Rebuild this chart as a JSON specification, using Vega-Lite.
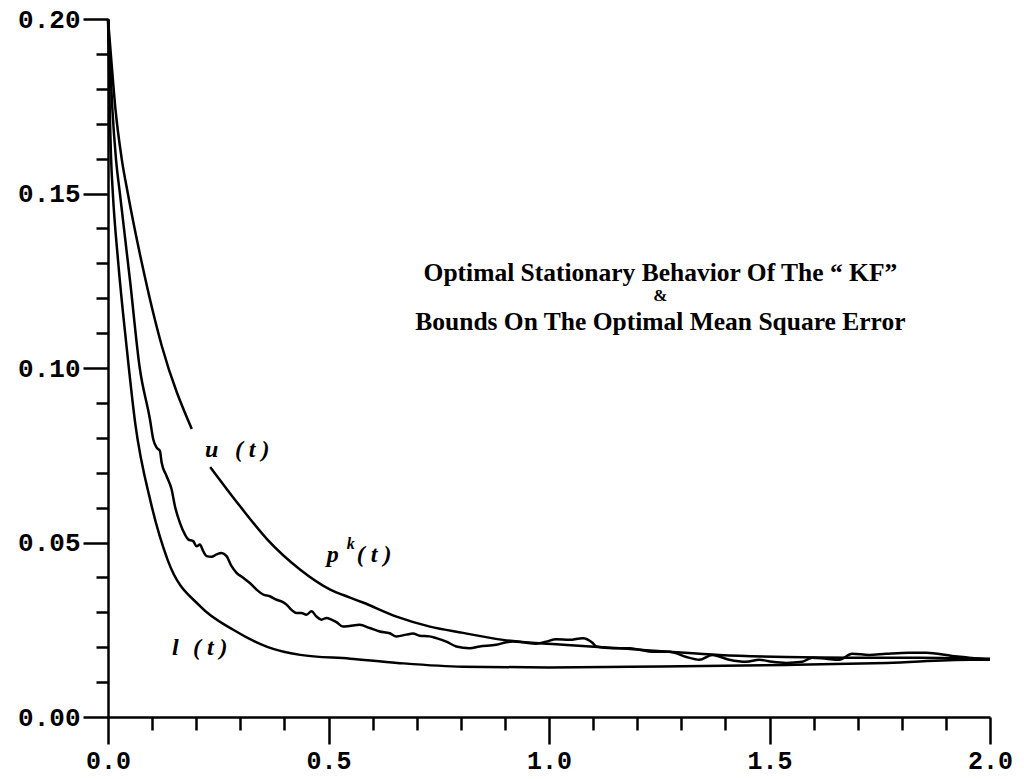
{
  "$schema": "https://vega.github.io/schema/vega-lite/v6.json",
  "autosize": "none",
  "width": 882,
  "height": 698,
  "padding": {"left": 108, "top": 19, "right": 34, "bottom": 62},
  "background": "white",
  "config": {"view": {"stroke": null}},
  "datasets": {
    "curves": [
      {"s":"u","g":1,"t":0,"v":0.2},{"s":"u","g":1,"t":0.007,"v":0.189},{"s":"u","g":1,"t":0.017,"v":0.174},{"s":"u","g":1,"t":0.031,"v":0.160},{"s":"u","g":1,"t":0.045,"v":0.150},{"s":"u","g":1,"t":0.076,"v":0.1305},{"s":"u","g":1,"t":0.122,"v":0.1063},{"s":"u","g":1,"t":0.19,"v":0.0825},
      {"s":"u","g":2,"t":0.232,"v":0.0716},{"s":"u","g":2,"t":0.300,"v":0.0603},{"s":"u","g":2,"t":0.361,"v":0.0509},{"s":"u","g":2,"t":0.436,"v":0.0422},{"s":"u","g":2,"t":0.504,"v":0.0365},{"s":"u","g":2,"t":0.549,"v":0.0342},{"s":"u","g":2,"t":0.578,"v":0.0328},{"s":"u","g":2,"t":0.656,"v":0.0287},{"s":"u","g":2,"t":0.730,"v":0.0259},{"s":"u","g":2,"t":0.805,"v":0.0241},{"s":"u","g":2,"t":0.896,"v":0.0221},{"s":"u","g":2,"t":1.032,"v":0.0207},{"s":"u","g":2,"t":1.17,"v":0.0196},{"s":"u","g":2,"t":1.273,"v":0.0187},{"s":"u","g":2,"t":1.386,"v":0.0178},{"s":"u","g":2,"t":1.538,"v":0.0172},{"s":"u","g":2,"t":1.687,"v":0.0170},{"s":"u","g":2,"t":1.839,"v":0.0170},{"s":"u","g":2,"t":2.0,"v":0.0167},
      {"s":"l","g":1,"t":0,"v":0.2},{"s":"l","g":1,"t":0.002,"v":0.189},{"s":"l","g":1,"t":0.004,"v":0.174},{"s":"l","g":1,"t":0.007,"v":0.160},{"s":"l","g":1,"t":0.011,"v":0.150},{"s":"l","g":1,"t":0.023,"v":0.1305},{"s":"l","g":1,"t":0.042,"v":0.1063},{"s":"l","g":1,"t":0.062,"v":0.0839},{"s":"l","g":1,"t":0.097,"v":0.0615},{"s":"l","g":1,"t":0.135,"v":0.0451},{"s":"l","g":1,"t":0.21,"v":0.0316},{"s":"l","g":1,"t":0.284,"v":0.025},{"s":"l","g":1,"t":0.361,"v":0.0201},{"s":"l","g":1,"t":0.436,"v":0.0178},{"s":"l","g":1,"t":0.549,"v":0.0167},{"s":"l","g":1,"t":0.656,"v":0.0155},{"s":"l","g":1,"t":0.805,"v":0.0144},{"s":"l","g":1,"t":1.0,"v":0.0142},{"s":"l","g":1,"t":1.183,"v":0.0144},{"s":"l","g":1,"t":1.539,"v":0.0149},{"s":"l","g":1,"t":1.766,"v":0.0155},{"s":"l","g":1,"t":1.955,"v":0.0164},{"s":"l","g":1,"t":2.0,"v":0.0164},
      {"s":"p","g":1,"t":0,"v":0.2},{"s":"p","g":1,"t":0.004,"v":0.189},{"s":"p","g":1,"t":0.010,"v":0.174},{"s":"p","g":1,"t":0.018,"v":0.160},{"s":"p","g":1,"t":0.027,"v":0.150},{"s":"p","g":1,"t":0.05,"v":0.125},{"s":"p","g":1,"t":0.072,"v":0.100},
      {"s":"p","g":1,"t":0.0951,"v":0.0853},{"s":"p","g":1,"t":0.1026,"v":0.0796},{"s":"p","g":1,"t":0.1103,"v":0.0772},{"s":"p","g":1,"t":0.1178,"v":0.0762},{"s":"p","g":1,"t":0.1216,"v":0.0729},{"s":"p","g":1,"t":0.1330,"v":0.0690},{"s":"p","g":1,"t":0.1443,"v":0.0652},{"s":"p","g":1,"t":0.1518,"v":0.0604},{"s":"p","g":1,"t":0.1631,"v":0.0556},{"s":"p","g":1,"t":0.1744,"v":0.0523},{"s":"p","g":1,"t":0.1819,"v":0.0509},{"s":"p","g":1,"t":0.1932,"v":0.0504},{"s":"p","g":1,"t":0.2009,"v":0.0489},{"s":"p","g":1,"t":0.2084,"v":0.0494},{"s":"p","g":1,"t":0.2159,"v":0.0475},{"s":"p","g":1,"t":0.2236,"v":0.0461},{"s":"p","g":1,"t":0.2349,"v":0.0459},{"s":"p","g":1,"t":0.2462,"v":0.0466},{"s":"p","g":1,"t":0.2575,"v":0.0470},{"s":"p","g":1,"t":0.2689,"v":0.0461},{"s":"p","g":1,"t":0.2802,"v":0.0432},{"s":"p","g":1,"t":0.2915,"v":0.0413},{"s":"p","g":1,"t":0.3065,"v":0.0399},{"s":"p","g":1,"t":0.3216,"v":0.0384},{"s":"p","g":1,"t":0.3368,"v":0.0365},{"s":"p","g":1,"t":0.3518,"v":0.0351},{"s":"p","g":1,"t":0.3669,"v":0.0346},{"s":"p","g":1,"t":0.3821,"v":0.0336},{"s":"p","g":1,"t":0.3934,"v":0.0331},{"s":"p","g":1,"t":0.4048,"v":0.0322},{"s":"p","g":1,"t":0.4161,"v":0.0307},{"s":"p","g":1,"t":0.4274,"v":0.0298},{"s":"p","g":1,"t":0.4387,"v":0.0298},{"s":"p","g":1,"t":0.4501,"v":0.0293},{"s":"p","g":1,"t":0.4614,"v":0.0303},{"s":"p","g":1,"t":0.4727,"v":0.0288},{"s":"p","g":1,"t":0.4840,"v":0.0279},{"s":"p","g":1,"t":0.4954,"v":0.0284},{"s":"p","g":1,"t":0.5067,"v":0.0279},{"s":"p","g":1,"t":0.518,"v":0.0272},{"s":"p","g":1,"t":0.533,"v":0.0259},{"s":"p","g":1,"t":0.548,"v":0.0261},{"s":"p","g":1,"t":0.5708,"v":0.0264},{"s":"p","g":1,"t":0.5934,"v":0.0255},{"s":"p","g":1,"t":0.6161,"v":0.0245},{"s":"p","g":1,"t":0.6387,"v":0.0240},{"s":"p","g":1,"t":0.6539,"v":0.0231},{"s":"p","g":1,"t":0.6765,"v":0.0236},{"s":"p","g":1,"t":0.6915,"v":0.0239},{"s":"p","g":1,"t":0.7067,"v":0.0233},{"s":"p","g":1,"t":0.7293,"v":0.0231},{"s":"p","g":1,"t":0.7445,"v":0.0226},{"s":"p","g":1,"t":0.7672,"v":0.0216},{"s":"p","g":1,"t":0.7898,"v":0.0202},{"s":"p","g":1,"t":0.8199,"v":0.0197},{"s":"p","g":1,"t":0.8426,"v":0.0202},{"s":"p","g":1,"t":0.8804,"v":0.0207},{"s":"p","g":1,"t":0.9030,"v":0.0214},{"s":"p","g":1,"t":0.918,"v":0.0216},{"s":"p","g":1,"t":0.9407,"v":0.0214},{"s":"p","g":1,"t":0.971,"v":0.0210},{"s":"p","g":1,"t":0.9936,"v":0.0216},{"s":"p","g":1,"t":1.0163,"v":0.0223},{"s":"p","g":1,"t":1.0464,"v":0.0221},{"s":"p","g":1,"t":1.0766,"v":0.0226},{"s":"p","g":1,"t":1.0992,"v":0.0212},{"s":"p","g":1,"t":1.1069,"v":0.0202},{"s":"p","g":1,"t":1.1445,"v":0.0197},{"s":"p","g":1,"t":1.1823,"v":0.0197},{"s":"p","g":1,"t":1.205,"v":0.0193},{"s":"p","g":1,"t":1.2344,"v":0.0187},{"s":"p","g":1,"t":1.273,"v":0.0187},{"s":"p","g":1,"t":1.3114,"v":0.0172},{"s":"p","g":1,"t":1.3409,"v":0.0164},{"s":"p","g":1,"t":1.3703,"v":0.0178},{"s":"p","g":1,"t":1.4088,"v":0.0164},{"s":"p","g":1,"t":1.4473,"v":0.0158},{"s":"p","g":1,"t":1.4768,"v":0.0164},{"s":"p","g":1,"t":1.5062,"v":0.0158},{"s":"p","g":1,"t":1.5379,"v":0.0155},{"s":"p","g":1,"t":1.5742,"v":0.0158},{"s":"p","g":1,"t":1.5968,"v":0.0170},{"s":"p","g":1,"t":1.6285,"v":0.0167},{"s":"p","g":1,"t":1.658,"v":0.0164},{"s":"p","g":1,"t":1.6874,"v":0.0181},{"s":"p","g":1,"t":1.7259,"v":0.0178},{"s":"p","g":1,"t":1.7644,"v":0.0181},{"s":"p","g":1,"t":1.8165,"v":0.0184},{"s":"p","g":1,"t":1.855,"v":0.0184},{"s":"p","g":1,"t":1.9139,"v":0.0175},{"s":"p","g":1,"t":1.9524,"v":0.0170},{"s":"p","g":1,"t":2.0,"v":0.0164}
    ],
    "labels": [
      {"txt":"u","t":0.2197,"v":0.0764},
      {"txt":"( t )","t":0.2877,"v":0.0764},
      {"txt":"l","t":0.145,"v":0.0198},
      {"txt":"( t )","t":0.1925,"v":0.0198},
      {"txt":"p","t":0.496,"v":0.0463},
      {"txt":"( t )","t":0.564,"v":0.0463}
    ],
    "sup": [
      {"txt":"k","t":0.5413,"v":0.0497}
    ],
    "title": [
      {"txt":"Optimal Stationary Behavior Of The \u201c KF\u201d","t":1.2526,"v":0.1272},
      {"txt":"Bounds On The Optimal Mean Square Error","t":1.2526,"v":0.1133}
    ],
    "amp": [
      {"txt":"&","t":1.2526,"v":0.1205}
    ]
  },
  "resolve": {"axis": {"x": "independent", "y": "independent"}},
  "layer": [
    {
      "data": {"name": "curves"},
      "mark": {"type": "line", "color": "black", "strokeWidth": 2.5, "interpolate": "monotone"},
      "encoding": {
        "x": {"field": "t", "type": "quantitative", "scale": {"domain": [0, 2], "nice": false},
          "axis": {"orient": "bottom", "title": null, "values": [0, 0.5, 1, 1.5, 2], "format": ".1f", "grid": false,
            "domainColor": "black", "domainWidth": 2.5, "tickColor": "black", "tickWidth": 2.5, "tickSize": 27,
            "labelFont": "Liberation Mono", "labelFontSize": 25, "labelFontWeight": "bold", "labelColor": "black", "labelPadding": 4, "labelFlush": false, "labelOverlap": false}},
        "y": {"field": "v", "type": "quantitative", "scale": {"domain": [0, 0.2], "nice": false},
          "axis": {"orient": "left", "title": null, "values": [0, 0.05, 0.1, 0.15, 0.2], "format": ".2f", "grid": false,
            "domainColor": "black", "domainWidth": 2.5, "tickColor": "black", "tickWidth": 2.5, "tickSize": 25,
            "labelFont": "Liberation Mono", "labelFontSize": 26, "labelFontWeight": "bold", "labelColor": "black", "labelPadding": 3, "labelFlush": false, "labelOverlap": false}},
        "detail": [{"field": "s"}, {"field": "g"}]
      }
    },
    {
      "data": {"name": "labels"},
      "mark": {"type": "text", "font": "Liberation Serif", "fontStyle": "italic", "fontWeight": "bold", "fontSize": 24, "align": "left", "baseline": "middle", "color": "black"},
      "encoding": {
        "x": {"field": "t", "type": "quantitative",
          "axis": {"orient": "bottom", "title": null, "values": [0.1,0.2,0.3,0.4,0.6,0.7,0.8,0.9,1.1,1.2,1.3,1.4,1.6,1.7,1.8,1.9], "labels": false, "domain": false, "grid": false, "tickColor": "black", "tickWidth": 2.5, "tickSize": 13}},
        "y": {"field": "v", "type": "quantitative",
          "axis": {"orient": "left", "title": null, "values": [0.01,0.02,0.03,0.04,0.06,0.07,0.08,0.09,0.11,0.12,0.13,0.14,0.16,0.17,0.18,0.19], "labels": false, "domain": false, "grid": false, "tickColor": "black", "tickWidth": 2.5, "tickSize": 12}},
        "text": {"field": "txt", "type": "nominal"}
      }
    },
    {
      "data": {"name": "sup"},
      "mark": {"type": "text", "font": "Liberation Serif", "fontStyle": "italic", "fontWeight": "bold", "fontSize": 16, "align": "left", "baseline": "middle", "color": "black"},
      "encoding": {
        "x": {"field": "t", "type": "quantitative", "axis": null},
        "y": {"field": "v", "type": "quantitative", "axis": null},
        "text": {"field": "txt", "type": "nominal"}
      }
    },
    {
      "data": {"name": "title"},
      "mark": {"type": "text", "font": "Liberation Serif", "fontWeight": "bold", "fontSize": 25.5, "align": "center", "baseline": "middle", "color": "black"},
      "encoding": {
        "x": {"field": "t", "type": "quantitative", "axis": null},
        "y": {"field": "v", "type": "quantitative", "axis": null},
        "text": {"field": "txt", "type": "nominal"}
      }
    },
    {
      "data": {"name": "amp"},
      "mark": {"type": "text", "font": "Liberation Serif", "fontWeight": "bold", "fontSize": 17, "align": "center", "baseline": "middle", "color": "black"},
      "encoding": {
        "x": {"field": "t", "type": "quantitative", "axis": null},
        "y": {"field": "v", "type": "quantitative", "axis": null},
        "text": {"field": "txt", "type": "nominal"}
      }
    }
  ]
}
